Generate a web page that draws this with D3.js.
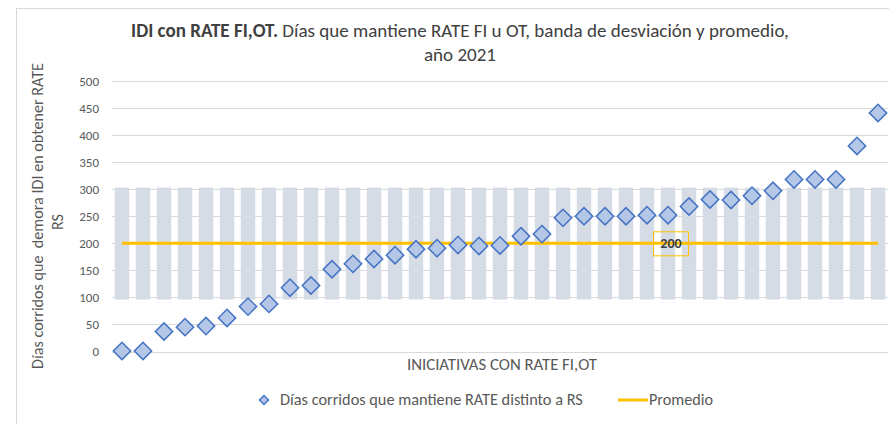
<!DOCTYPE html>
<html>
<head>
<meta charset="utf-8">
<script src="https://cdn.jsdelivr.net/npm/d3@7"></script>
<style>
  html, body { margin: 0; padding: 0; background: #fff; }
  svg { display: block; }
  text { font-family: Carlito, Lato, "Open Sans", sans-serif; }
</style>
</head>
<body>
<svg id="chart" width="889" height="424"></svg>
<script>
// ---- Data ----
const categories = d3.range(1, 38).map(i => "IDI " + i);
const diasValues = [1, 1, 37, 45, 47, 62, 83, 88, 118, 122, 152, 162, 171, 178, 189, 191, 197, 195, 196,
                    213, 217, 247, 250, 250, 250, 252, 252, 268, 281, 280, 288, 297, 318, 318, 318, 380, 441];
const promedio = 200;
const bandLow = 96;
const bandHigh = 303;
const yTicks = [0, 50, 100, 150, 200, 250, 300, 350, 400, 450, 500];
const titleBold = "IDI con RATE FI,OT.";
const titleRest = " Días que mantiene RATE FI u OT, banda de desviación y promedio,";
const titleLine2 = "año 2021";
const yTitle1 = "Días corridos que  demora IDI en obtener RATE";
const yTitle2 = "RS";
const xTitle = "INICIATIVAS CON RATE FI,OT";
const legendSeries = "Días corridos que mantiene RATE distinto a RS";
const legendAvg = "Promedio";
const avgLabelIndex = 26;

// ---- Setup ----
const svg = d3.select("#chart");
const textColor = "#595959";

function fitWidth(sel, target) {
  const node = sel.node();
  const w = node.getComputedTextLength();
  const fs = parseFloat(sel.attr("font-size"));
  if (w > 0) sel.attr("font-size", (fs * target / w).toFixed(2));
}

// chart border
svg.append("rect").attr("x", 16.5).attr("y", 8.5).attr("width", 889).attr("height", 430)
  .attr("fill", "none").attr("stroke", "#d9d9d9").attr("stroke-width", 1);

const x = d3.scaleBand().domain(categories).range([111.5, 888.5]).paddingInner(0.31).paddingOuter(0.155);
const y = d3.scaleLinear().domain([0, 500]).range([351.5, 81]);

// gridlines
svg.append("g").selectAll("line").data(yTicks).join("line")
  .attr("x1", 112).attr("x2", 888)
  .attr("y1", d => Math.round(y(d)) + 0.5).attr("y2", d => Math.round(y(d)) + 0.5)
  .attr("stroke", "#d9d9d9").attr("stroke-width", 1);

// deviation band bars
svg.append("g").selectAll("rect").data(categories).join("rect")
  .attr("x", d => x(d)).attr("width", x.bandwidth())
  .attr("y", y(bandHigh)).attr("height", y(bandLow) - y(bandHigh))
  .attr("fill", "#d6dce5");

// y axis labels
const yAxis = d3.axisLeft(y).tickValues(yTicks).tickSize(0).tickPadding(0);
const gy = svg.append("g").attr("transform", "translate(99,0)").call(yAxis);
gy.select(".domain").remove();
gy.selectAll("text").attr("font-size", 13).attr("fill", textColor)
  .attr("font-family", "Carlito, Lato, 'Open Sans', sans-serif");

// average line
const cx = d => x(d) + x.bandwidth() / 2;
svg.append("line")
  .attr("x1", cx(categories[0])).attr("x2", cx(categories[categories.length - 1]))
  .attr("y1", y(promedio)).attr("y2", y(promedio))
  .attr("stroke", "#ffc000").attr("stroke-width", 3);

// diamonds
const diamond = d3.symbol().type(d3.symbolSquare).size(150);
svg.append("g").selectAll("path").data(diasValues).join("path")
  .attr("d", diamond)
  .attr("transform", (d, i) => `translate(${cx(categories[i])},${y(d)}) rotate(45)`)
  .attr("fill", "#b4c7e7").attr("stroke", "#4472c4").attr("stroke-width", 1.5);

// average label
const lx = cx(categories[avgLabelIndex]) + 3;
svg.append("rect").attr("x", lx - 17.5).attr("y", y(promedio) - 11.5).attr("width", 35).attr("height", 24)
  .attr("fill", "none").attr("stroke", "#ffc000").attr("stroke-width", 1);
svg.append("text").attr("x", lx).attr("y", y(promedio) + 5).attr("text-anchor", "middle")
  .attr("font-size", 14).attr("font-weight", "bold").attr("fill", "#404040").text(promedio);

// title
const t1 = svg.append("text").attr("x", 460).attr("y", 37).attr("text-anchor", "middle")
  .attr("font-size", 16).attr("fill", "#404040");
t1.append("tspan").attr("font-weight", "bold").text(titleBold);
t1.append("tspan").text(titleRest);
fitWidth(t1, 658);
const t2 = svg.append("text").attr("x", 460).attr("y", 61).attr("text-anchor", "middle")
  .attr("font-size", t1.attr("font-size")).attr("fill", "#404040").text(titleLine2);

// y title
const yt1 = svg.append("text").attr("transform", "translate(43,216) rotate(-90)")
  .attr("text-anchor", "middle").attr("font-size", 14).attr("fill", textColor)
  .style("white-space", "pre").attr("xml:space", "preserve").text(yTitle1);
fitWidth(yt1, 306);
svg.append("text").attr("transform", "translate(63,222) rotate(-90)")
  .attr("text-anchor", "middle").attr("font-size", yt1.attr("font-size")).attr("fill", textColor).text(yTitle2);

// x title
const xt = svg.append("text").attr("x", 502).attr("y", 370).attr("text-anchor", "middle")
  .attr("font-size", 13).attr("fill", textColor).text(xTitle);
fitWidth(xt, 190);

// legend
const legY = 400;
svg.append("path").attr("d", d3.symbol().type(d3.symbolSquare).size(40)())
  .attr("transform", `translate(264,${legY}) rotate(45)`)
  .attr("fill", "#b4c7e7").attr("stroke", "#4472c4").attr("stroke-width", 1.5);
const lt1 = svg.append("text").attr("x", 280).attr("y", legY + 5).attr("font-size", 13)
  .attr("fill", textColor).text(legendSeries);
fitWidth(lt1, 303);
svg.append("line").attr("x1", 618).attr("x2", 648).attr("y1", legY).attr("y2", legY)
  .attr("stroke", "#ffc000").attr("stroke-width", 3);
const lt2 = svg.append("text").attr("x", 649).attr("y", legY + 5).attr("font-size", 13)
  .attr("fill", textColor).text(legendAvg);
fitWidth(lt2, 64);
</script>
</body>
</html>
